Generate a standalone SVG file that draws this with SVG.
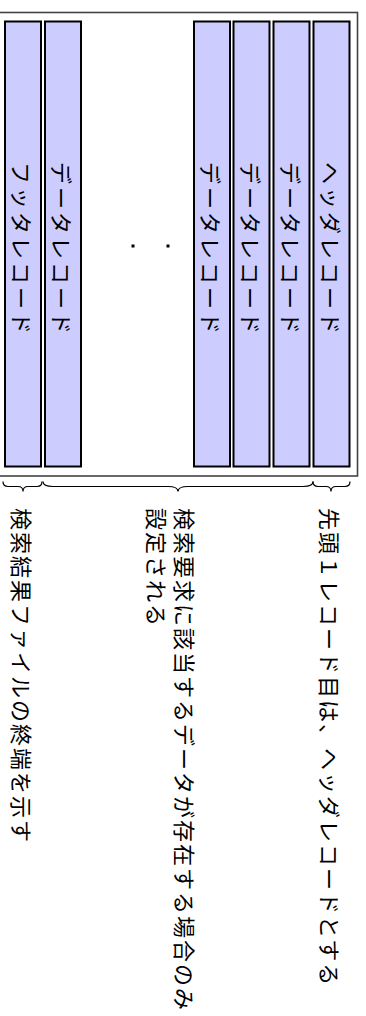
<svg xmlns="http://www.w3.org/2000/svg" width="366" height="1016" viewBox="0 0 366 1016">
<style>
.frame{fill:#fff;stroke:#444;stroke-width:1.6}
.bar{fill:#ccccff;stroke:#000;stroke-width:2}
.bt{font-family:"Noto Sans CJK JP","Noto Sans",sans-serif;font-size:22px;letter-spacing:3px;fill:#000;dominant-baseline:central}
.lt{font-family:"Noto Sans CJK JP","Noto Sans",sans-serif;font-size:22px;letter-spacing:2px;fill:#000;dominant-baseline:central}
.brace{fill:none;stroke:#000;stroke-width:1.2}
</style>
<rect width="366" height="1016" fill="#fff"/>
<rect class="frame" x="-10" y="12.5" width="367.5" height="463.5"/>
<g id="footer-record"><rect class="bar" x="5" y="21.5" width="36" height="445"/><text class="bt" transform="translate(23,162) rotate(90)">フッタレコード</text></g>
<g id="data-record-last"><rect class="bar" x="45" y="21.5" width="36" height="445"/><text class="bt" transform="translate(63,162) rotate(90)">データレコード</text></g>
<g id="ellipsis"><rect x="131.5" y="244.5" width="3" height="3" fill="#000"/><rect x="166.5" y="244.5" width="3" height="3" fill="#000"/></g>
<g id="data-record-3"><rect class="bar" x="194" y="21.5" width="36" height="445"/><text class="bt" transform="translate(212,162) rotate(90)">データレコード</text></g>
<g id="data-record-2"><rect class="bar" x="233.5" y="21.5" width="36" height="445"/><text class="bt" transform="translate(251.5,162) rotate(90)">データレコード</text></g>
<g id="data-record-1"><rect class="bar" x="273.5" y="21.5" width="36" height="445"/><text class="bt" transform="translate(291.5,162) rotate(90)">データレコード</text></g>
<g id="header-record"><rect class="bar" x="313.5" y="21.5" width="36" height="445"/><text class="bt" transform="translate(331.5,162) rotate(90)">ヘッダレコード</text></g>
<g id="connectors">
<path class="brace" d="M3,481.5 Q3,486.5 8,486.5 L18,486.5 Q23,486.5 23,491.5 Q23,486.5 28,486.5 L37,486.5 Q42,486.5 42,481.5"/>
<path class="brace" d="M43,481.5 Q43,486.5 53,486.5 L168,486.5 Q178,486.5 178,491.5 Q178,486.5 188,486.5 L303,486.5 Q313,486.5 313,481.5"/>
<path class="brace" d="M313,481.5 Q313,486.5 318,486.5 L326,486.5 Q331,486.5 331,491.5 Q331,486.5 336,486.5 L345,486.5 Q350,486.5 350,481.5"/>
</g>
<g id="label-header"><text class="lt" transform="translate(331,508) rotate(90)">先頭１レコード目は、ヘッダレコードとする</text></g>
<g id="label-data"><text class="lt" transform="translate(186,508) rotate(90)"><tspan x="0" y="0">検索要求に該当するデータが存在する場合のみ</tspan><tspan x="0" y="28">設定される</tspan></text></g>
<g id="label-footer"><text class="lt" transform="translate(23,508) rotate(90)">検索結果ファイルの終端を示す</text></g>
</svg>
